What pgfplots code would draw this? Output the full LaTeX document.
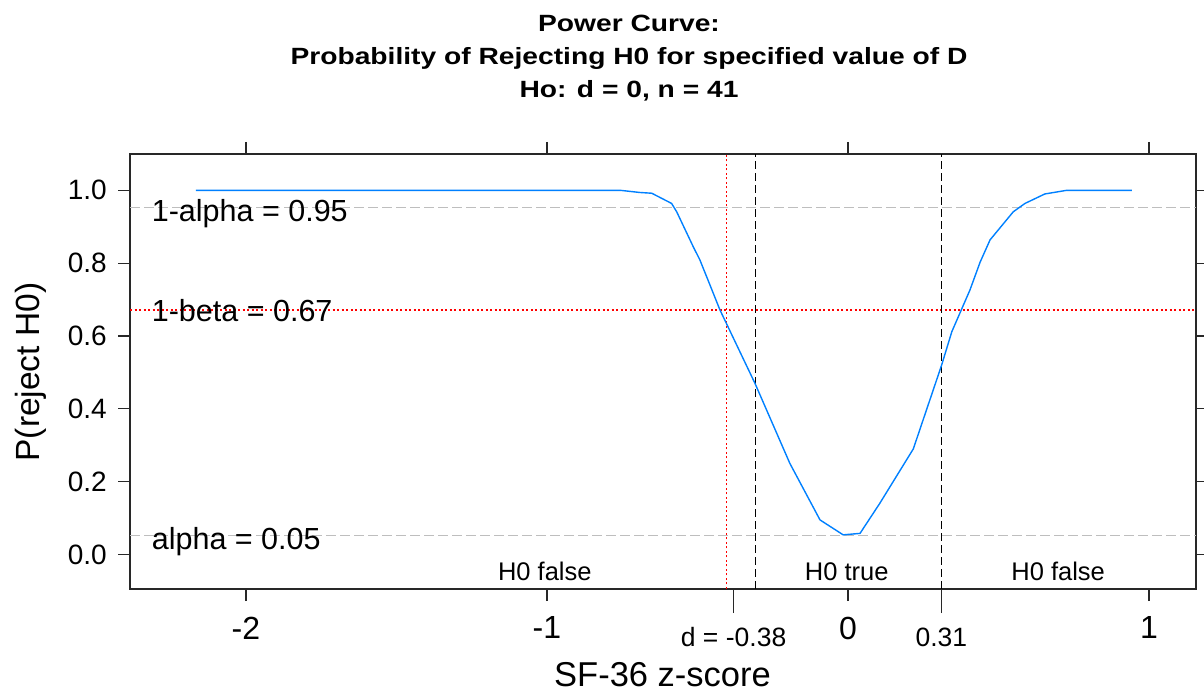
\documentclass[border=0pt]{standalone}
\usepackage{fontspec}
\setmainfont{Liberation Sans}
\usepackage{pgfplots}
\pgfplotsset{compat=1.18}
\definecolor{curveblue}{RGB}{0,128,255}
\definecolor{refgray}{RGB}{190,190,190}
\definecolor{axisgray}{RGB}{40,40,40}
\begin{document}
\begin{tikzpicture}
\path[use as bounding box] (0,0) rectangle (1204bp,692bp);
\begin{axis}[
  at={(130bp,103bp)}, anchor=south west,
  scale only axis, width=1066bp, height=435bp,
  xmin=-2.385, xmax=1.156, ymin=-0.0947, ymax=1.0997,
  axis line style={line width=1.2bp, axisgray},
  every tick/.style={line width=1.2bp, axisgray},
  tick align=outside, major tick length=12bp,
  xtick pos=both, ytick pos=both,
  xtick={-2,-1,0,1}, xticklabels={-2,-1,0,1},
  ytick={0,0.2,0.4,0.6,0.8,1},
  yticklabels={0.0,0.2,0.4,0.6,0.8,1.0},
  x tick label style={font=\fontsize{32bp}{32bp}\selectfont, inner sep=0pt, anchor=north, yshift=-15.5bp},
  y tick label style={font=\fontsize{28bp}{28bp}\selectfont, inner sep=0pt, anchor=east, xshift=-11bp},
  extra x ticks={-0.38,0.31},
  extra x tick labels={{\fontsize{26.5bp}{26.5bp}\selectfont d = -0.38}, {\fontsize{26.5bp}{26.5bp}\selectfont 0.31}},
  extra x tick style={major tick length=24bp, xtick pos=left,
    tick label style={yshift=1bp}},
]
% reference lines
\addplot[refgray, line width=1.4bp, dash pattern=on 10bp off 4bp] coordinates {(-2.385,0.952) (1.156,0.952)};
\addplot[refgray, line width=1.4bp, dash pattern=on 10bp off 4bp] coordinates {(-2.385,0.052) (1.156,0.052)};
\addplot[red, line width=1.4bp, dash pattern=on 2bp off 2.5bp] coordinates {(-2.385,0.671) (1.156,0.671)};
\addplot[red, line width=1.4bp, dash pattern=on 2bp off 2.5bp] coordinates {(-0.403,-0.0947) (-0.403,1.0997)};
\addplot[black, line width=1.5bp, dash pattern=on 8bp off 4bp] coordinates {(-0.307,-0.0947) (-0.307,1.0997)};
\addplot[black, line width=1.5bp, dash pattern=on 8bp off 4bp] coordinates {(0.311,-0.0947) (0.311,1.0997)};
% power curve
\addplot[curveblue, line width=1.4bp] coordinates {
(-2.166,1.000) (-0.757,1.000) (-0.691,0.994) (-0.652,0.992) (-0.586,0.964)
(-0.569,0.941) (-0.514,0.845) (-0.492,0.809) (-0.425,0.671) (-0.309,0.470)
(-0.193,0.250) (-0.093,0.095) (-0.016,0.054) (0.040,0.058) (0.106,0.141)
(0.217,0.290) (0.311,0.520) (0.345,0.612) (0.405,0.726) (0.439,0.803)
(0.472,0.864) (0.549,0.941) (0.588,0.964) (0.654,0.990) (0.727,1.000)
(0.943,1.000)};
% annotations
\node[anchor=base west, inner sep=0pt, font=\fontsize{30.5bp}{30.5bp}\selectfont] at (axis cs:-2.313,0.914) {1-alpha = 0.95};
\node[anchor=base west, inner sep=0pt, font=\fontsize{30.5bp}{30.5bp}\selectfont] at (axis cs:-2.313,0.639) {1-beta = 0.67};
\node[anchor=base west, inner sep=0pt, font=\fontsize{30.5bp}{30.5bp}\selectfont] at (axis cs:-2.313,0.0124) {alpha = 0.05};
\node[anchor=base, inner sep=0pt, font=\fontsize{25.5bp}{25.5bp}\selectfont] at (axis cs:-1.007,-0.070) {H0 false};
\node[anchor=base, inner sep=0pt, font=\fontsize{25.5bp}{25.5bp}\selectfont] at (axis cs:-0.004,-0.070) {H0 true};
\node[anchor=base, inner sep=0pt, font=\fontsize{25.5bp}{25.5bp}\selectfont] at (axis cs:0.698,-0.070) {H0 false};
\end{axis}
% titles and axis labels
\node[anchor=base, inner sep=0pt, xscale=1.2, font=\bfseries\fontsize{23.5bp}{23.5bp}\selectfont] at (629bp,660.5bp) {Power Curve:};
\node[anchor=base, inner sep=0pt, xscale=1.2, font=\bfseries\fontsize{23.5bp}{23.5bp}\selectfont] at (629bp,627.7bp) {Probability of Rejecting H0 for specified value of D};
\node[anchor=base, inner sep=0pt, xscale=1.2, font=\bfseries\fontsize{23.5bp}{23.5bp}\selectfont] at (629bp,594.3bp) {Ho: d = 0, n = 41};
\node[anchor=base, inner sep=0pt, font=\fontsize{34.5bp}{34.5bp}\selectfont] at (662.5bp,5.5bp) {SF-36 z-score};
\node[anchor=base, inner sep=0pt, rotate=90, font=\fontsize{33.5bp}{33.5bp}\selectfont] at (39.5bp,320bp) {P(reject H0)};
\end{tikzpicture}
\end{document}
